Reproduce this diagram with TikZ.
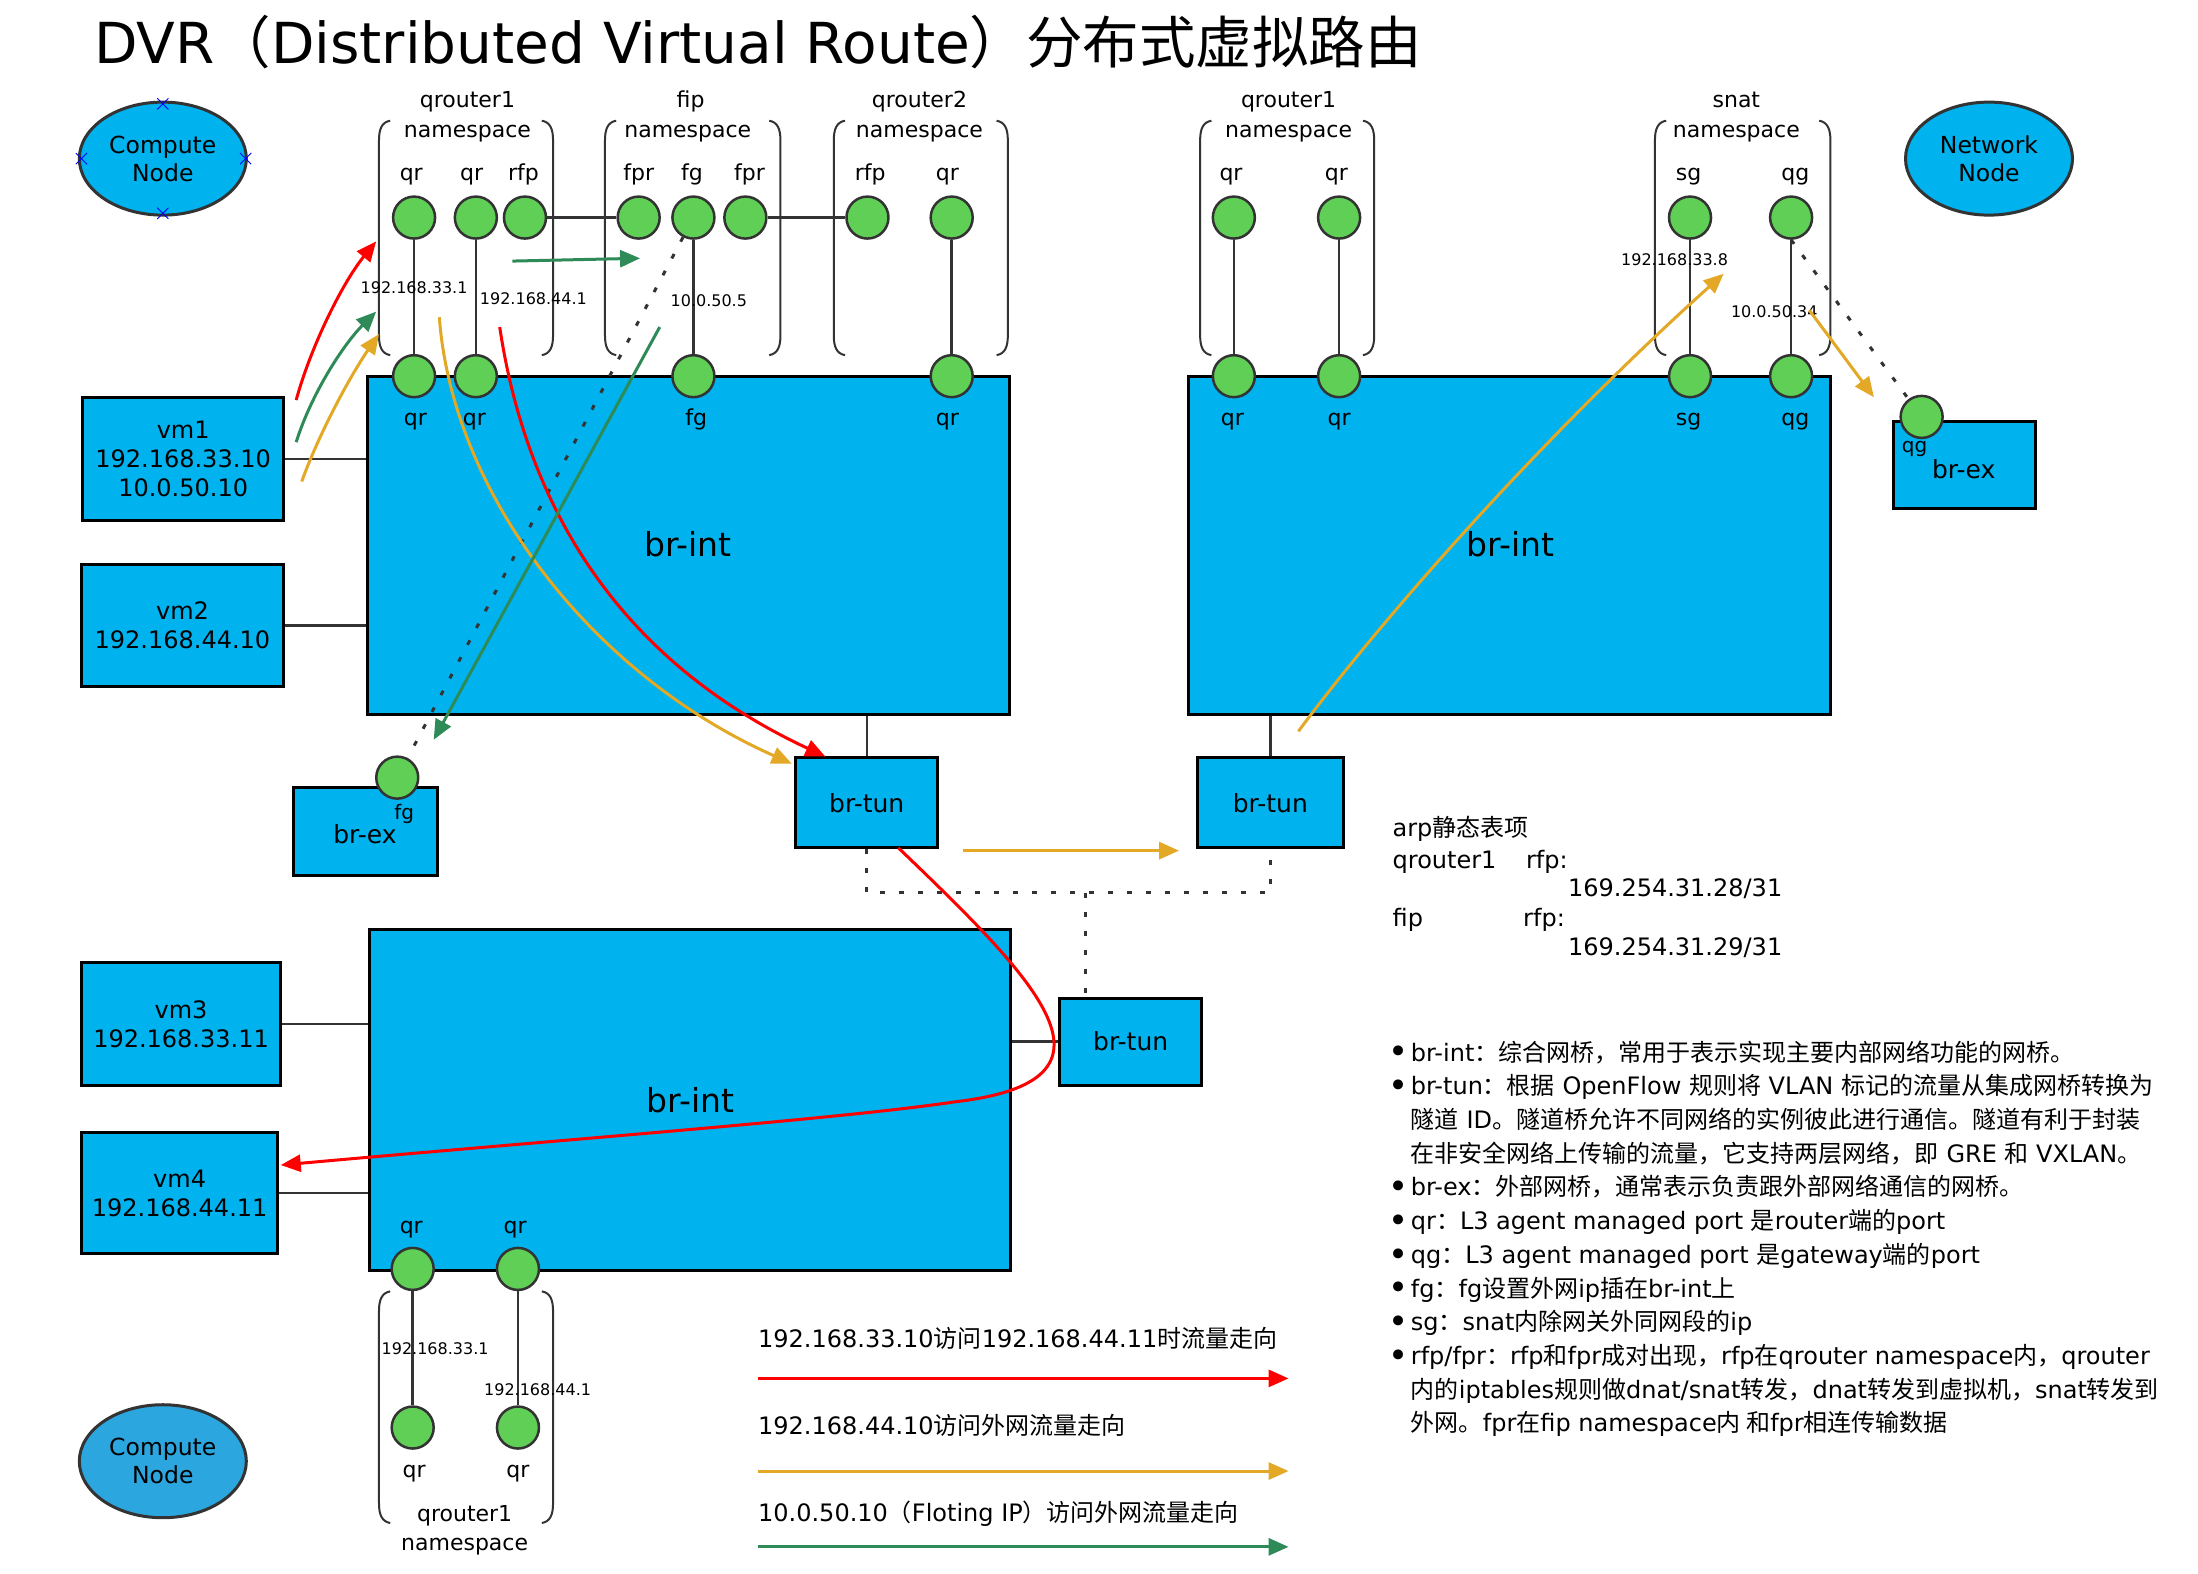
\documentclass[tikz,border=0pt]{standalone}
\usepackage{fontspec}
\setmainfont{DejaVu Sans}
\newfontfamily\cjk{Noto Sans CJK SC}
\newcommand\zh[1]{{\cjk #1}}
\usetikzlibrary{shapes.geometric,arrows.meta,fit}
\definecolor{boxblue}{RGB}{0,178,238}
\definecolor{nodeblue}{RGB}{44,166,223}
\definecolor{portgreen}{RGB}{95,208,85}
\definecolor{edgegray}{RGB}{51,51,51}
\definecolor{flowred}{RGB}{255,0,0}
\definecolor{floworange}{RGB}{226,168,38}
\definecolor{flowgreen}{RGB}{46,139,87}
\tikzset{
  box/.style={draw=black, line width=3pt, fill=boxblue, inner sep=0pt},
  port/.style={circle, draw=edgegray, line width=2.5pt, fill=portgreen, minimum size=42pt, inner sep=0pt},
  wire/.style={draw=edgegray, line width=2.5pt},
  dotwire/.style={draw=edgegray, line width=3pt, dash pattern=on 5pt off 14pt},
  brk/.style={draw=edgegray, line width=2pt},
  flow/.style={line width=3pt, -{Triangle[length=20pt,width=17pt]}},
  lab/.style={font=\fontsize{22}{26}\selectfont, inner sep=0pt, text height=0.75em, text depth=0.25em},
  iplab/.style={font=\fontsize{16}{19}\selectfont, inner sep=0pt},
  bigtxt/.style={font=\fontsize{33}{38}\selectfont, inner sep=0pt},
  vmtxt/.style={font=\fontsize{24}{29}\selectfont, inner sep=0pt, align=center},
  tuntxt/.style={font=\fontsize{25}{30}\selectfont, inner sep=0pt},
  sublab/.style={font=\fontsize{20}{24}\selectfont, inner sep=0pt},
  txt/.style={font=\fontsize{24}{29}\selectfont, inner sep=0pt, anchor=base west},
  bul/.style={font=\fontsize{34}{34}\selectfont, inner sep=0pt, anchor=base west},
  hostnode/.style={ellipse, draw=edgegray, line width=3pt, minimum width=167pt, minimum height=113pt, align=center, font=\fontsize{23.5}{28}\selectfont, inner sep=0pt},
}
\newcommand\nsbrk[4]{%
  \draw[brk] (#1+8,#3) .. controls (#1+2,#3+1) and (#1,#3+6) .. (#1,#3+14) -- (#1,#4-14) .. controls (#1,#4-6) and (#1+2,#4-1) .. (#1+8,#4);
  \draw[brk] (#2-8,#3) .. controls (#2-2,#3+1) and (#2,#3+6) .. (#2,#3+14) -- (#2,#4-14) .. controls (#2,#4-6) and (#2-2,#4-1) .. (#2-8,#4);
}
\begin{document}
\begin{tikzpicture}[x=1.4037pt,y=-1.4037pt]
\useasboundingbox (0,0) rectangle (1565.9,1121.3);

% title
\node[anchor=base west, inner sep=0pt, font=\fontsize{56.5}{68}\selectfont] (title) at (67,45) {DVR\zh{（}Distributed Virtual Route\zh{）分布式虚拟路由}};

% host ellipses
\node[hostnode, fill=boxblue] (cn1) at (116,113) {Compute\\Node};
\node[hostnode, fill=boxblue] (nn) at (1417,113) {Network\\Node};
\node[hostnode, fill=nodeblue] (cn2) at (116,1041) {Compute\\Node};
\foreach \p in {(116,74),(116,152),(58,113),(175,113)}
  \draw[blue, line width=0.8pt] \p ++(-4,-4) -- ++(8,8) \p ++(-4,4) -- ++(8,-8);

% namespace brackets
\nsbrk{270}{394}{86}{253}
\nsbrk{431}{556}{86}{253}
\nsbrk{594}{718}{86}{253}
\nsbrk{855}{979}{86}{253}
\nsbrk{1179}{1304}{86}{253}
\nsbrk{270}{394}{920}{1085}

\node[lab] (n1a) at (333,75) {qrouter1};
\node[lab] (n1b) at (333,96) {namespace};
\node[lab] (n2a) at (492,75) {fip};
\node[lab] (n2b) at (490,96) {namespace};
\node[lab] (n3a) at (655,75) {qrouter2};
\node[lab] (n3b) at (655,96) {namespace};
\node[lab] (n4a) at (918,75) {qrouter1};
\node[lab] (n4b) at (918,96) {namespace};
\node[lab] (n5a) at (1237,75) {snat};
\node[lab] (n5b) at (1237,96) {namespace};
\node[lab] (n6a) at (331,1082) {qrouter1};
\node[lab] (n6b) at (331,1103) {namespace};

% boxes
\node[box, fit={(262,268) (719,509)}] (bi1) {};
\node[box, fit={(847,268) (1304,509)}] (bi2) {};
\node[box, fit={(263,662) (720,905)}] (bi3) {};
\node[box, fit={(59,283) (202,371)}] (vm1) {};
\node[box, fit={(58,402) (202,489)}] (vm2) {};
\node[box, fit={(58,686) (200,773)}] (vm3) {};
\node[box, fit={(58,807) (198,893)}] (vm4) {};
\node[box, fit={(209,561) (312,624)}] (bx1) {};
\node[box, fit={(1349,300) (1450,362)}] (bx2) {};
\node[box, fit={(567,540) (668,604)}] (bt1) {};
\node[box, fit={(853,540) (957,604)}] (bt2) {};
\node[box, fit={(755,711) (856,773)}] (bt3) {};

\node[bigtxt] (bi1t) at (490,388) {br-int};
\node[bigtxt] (bi2t) at (1076,388) {br-int};
\node[bigtxt] (bi3t) at (492,784) {br-int};
\node[vmtxt] (vm1t) at (vm1) {vm1\\192.168.33.10\\10.0.50.10};
\node[vmtxt] (vm2t) at (vm2) {vm2\\192.168.44.10};
\node[vmtxt] (vm3t) at (vm3) {vm3\\192.168.33.11};
\node[vmtxt] (vm4t) at (vm4) {vm4\\192.168.44.11};
\node[tuntxt] (bt1t) at (bt1) {br-tun};
\node[tuntxt] (bt2t) at (bt2) {br-tun};
\node[tuntxt] (bt3t) at (bt3) {br-tun};
\node[tuntxt] (bx1t) at (260,594) {br-ex};
\node[tuntxt] (bx2t) at (1399,334) {br-ex};

% box links
\draw[wire] (vm1) -- (vm1 -| bi1.west);
\draw[wire] (vm2) -- (vm2 -| bi1.west);
\draw[wire] (vm3) -- (vm3 -| bi3.west);
\draw[wire] (vm4) -- (vm4 -| bi3.west);
\draw[wire] (bt1) -- (bt1 |- bi1.south);
\draw[wire] (bt2) -- (bt2 |- bi2.south);
\draw[wire] (bt3) -- (bt3 -| bi3.east);
\coordinate (dj) at (773,636);
\draw[dotwire] (bt1.south) |- (dj) -| (bt2.south);
\draw[dotwire] (dj) -- (dj |- bt3.north);

% ports
\node[port] (p1a) at (295,155) {};
\node[port] (p1b) at (339,155) {};
\node[port] (p1c) at (374,155) {};
\node[port] (f1) at (455,155) {};
\node[port] (f2) at (494,155) {};
\node[port] (f3) at (531,155) {};
\node[port] (q2a) at (618,155) {};
\node[port] (q2b) at (678,155) {};
\node[port] (r1a) at (879,155) {};
\node[port] (r1b) at (954,155) {};
\node[port] (s1) at (1204,155) {};
\node[port] (s2) at (1276,155) {};
\node[port] (b1a) at (295,268) {};
\node[port] (b1b) at (339,268) {};
\node[port] (b1c) at (494,268) {};
\node[port] (b1d) at (678,268) {};
\node[port] (b2a) at (879,268) {};
\node[port] (b2b) at (954,268) {};
\node[port] (b2c) at (1204,268) {};
\node[port] (b2d) at (1276,268) {};
\node[port] (bx1p) at (283,554) {};
\node[port] (bx2p) at (1369,297) {};
\node[port] (b3a) at (294,904) {};
\node[port] (b3b) at (369,904) {};
\node[port] (c3a) at (294,1017) {};
\node[port] (c3b) at (369,1017) {};

\draw[wire] (p1a) -- (b1a);
\draw[wire] (p1b) -- (b1b);
\draw[wire] (f2) -- (b1c);
\draw[wire] (q2b) -- (b1d);
\draw[wire] (r1a) -- (b2a);
\draw[wire] (r1b) -- (b2b);
\draw[wire] (s1) -- (b2c);
\draw[wire] (s2) -- (b2d);
\draw[wire] (b3a) -- (c3a);
\draw[wire] (b3b) -- (c3b);
\draw[wire] (p1c) -- (f1);
\draw[wire] (f3) -- (q2a);
\draw[dotwire] (f2) -- (bx1p);
\draw[dotwire] (s2.south) -- (bx2p);

% port labels
\node[lab] (l1) at (293,127) {qr};
\node[lab] (l2) at (336,127) {qr};
\node[lab] (l3) at (373,127) {rfp};
\node[lab] (l4) at (455,127) {fpr};
\node[lab] (l5) at (493,127) {fg};
\node[lab] (l6) at (534,127) {fpr};
\node[lab] (l7) at (620,127) {rfp};
\node[lab] (l8) at (675,127) {qr};
\node[lab] (l9) at (877,127) {qr};
\node[lab] (l10) at (952,127) {qr};
\node[lab] (l11) at (1203,127) {sg};
\node[lab] (l12) at (1279,127) {qg};
\node[lab] (m1) at (296,301) {qr};
\node[lab] (m2) at (338,301) {qr};
\node[lab] (m3) at (496,301) {fg};
\node[lab] (m4) at (675,301) {qr};
\node[lab] (m5) at (878,301) {qr};
\node[lab] (m6) at (954,301) {qr};
\node[lab] (m7) at (1203,301) {sg};
\node[lab] (m8) at (1279,301) {qg};
\node[lab] (k1) at (293,877) {qr};
\node[lab] (k2) at (367,877) {qr};
\node[lab] (k3) at (295,1051) {qr};
\node[lab] (k4) at (369,1051) {qr};
\node[sublab] (bx1l) at (288,580) {fg};
\node[sublab] (bx2l) at (1364,320) {qg};

% ip labels
\node[iplab] (ip1) at (295,205) {192.168.33.1};
\node[iplab] (ip2) at (380,213) {192.168.44.1};
\node[iplab] (ip3) at (505,214) {10.0.50.5};
\node[iplab] (ip4) at (1193,185) {192.168.33.8};
\node[iplab] (ip5) at (1264,222) {10.0.50.34};
\node[iplab] (ip6) at (310,961) {192.168.33.1};
\node[iplab] (ip7) at (383,990) {192.168.44.1};

% flows
\coordinate (ra0) at (211,285);  \coordinate (ra1) at (268,172);
\coordinate (ga0) at (211,315);  \coordinate (ga1) at (268,222);
\coordinate (oa0) at (215,343);  \coordinate (oa1) at (270,238);
\coordinate (gh0) at (365,186);  \coordinate (gh1) at (456,184);
\coordinate (ob0) at (313,226);  \coordinate (ob1) at (564,544);
\coordinate (rb0) at (356,233);  \coordinate (rb1) at (588,539);
\coordinate (gg0) at (470,233);  \coordinate (gg1) at (309,527);
\coordinate (rc0) at (640,604);  \coordinate (rcm) at (680,785); \coordinate (rc1) at (200,830);
\coordinate (oh0) at (686,606);  \coordinate (oh1) at (840,606);
\coordinate (od0) at (925,521);  \coordinate (od1) at (1228,195);
\coordinate (oe0) at (1289,221); \coordinate (oe1) at (1335,283);

\draw[flow, flowred] (ra0) .. controls (222,245) and (245,200) .. (ra1);
\draw[flow, flowgreen] (ga0) .. controls (222,280) and (245,245) .. (ga1);
\draw[flow, floworange] (oa0) .. controls (226,312) and (248,270) .. (oa1);
\draw[flow, flowgreen] (gh0) -- (gh1);
\draw[flow, floworange] (ob0) .. controls (322,350) and (420,480) .. (ob1);
\draw[flow, flowred] (rb0) .. controls (375,360) and (440,470) .. (rb1);
\draw[flow, flowgreen] (gg0) -- (gg1);
\draw[flow, flowred] (rc0) .. controls (740,700) and (810,770) .. (rcm) .. controls (600,797) and (400,812) .. (rc1);
\draw[flow, floworange] (oh0) -- (oh1);
\draw[flow, floworange] (od0) .. controls (985,440) and (1100,310) .. (od1);
\draw[flow, floworange] (oe0) -- (oe1);

% legend of flows
\coordinate (lg1a) at (540,982);  \coordinate (lg1b) at (918,982);
\coordinate (lg2a) at (540,1048); \coordinate (lg2b) at (918,1048);
\coordinate (lg3a) at (540,1102); \coordinate (lg3b) at (918,1102);
\draw[flow, flowred] (lg1a) -- (lg1b);
\draw[flow, floworange] (lg2a) -- (lg2b);
\draw[flow, flowgreen] (lg3a) -- (lg3b);
\node[txt] (lt1) at (540,960) {192.168.33.10\zh{访问}192.168.44.11\zh{时流量走向}};
\node[txt] (lt2) at (540,1022) {192.168.44.10\zh{访问外网流量走向}};
\node[txt] (lt3) at (540,1084) {10.0.50.10\zh{（}Floting IP\zh{）访问外网流量走向}};

% arp table
\node[txt] (a1) at (992,596) {arp\zh{静态表项}};
\node[txt] (a2) at (992,619) {qrouter1};
\node[txt] (a3) at (1087,619) {rfp:};
\node[txt] (a4) at (1117,639) {169.254.31.28/31};
\node[txt] (a5) at (992,660) {fip};
\node[txt] (a6) at (1085,660) {rfp:};
\node[txt] (a7) at (1117,681) {169.254.31.29/31};

% notes
\foreach \yy in {756,780,852,876,900,924,948,972}
  \node[bul] at (989,\yy+2) {•};
\node[txt] (t1) at (1005,756) {br-int\zh{：综合网桥，常用于表示实现主要内部网络功能的网桥。}};
\node[txt] (t2) at (1005,780) {br-tun\zh{：根据} OpenFlow \zh{规则将} VLAN \zh{标记的流量从集成网桥转换为}};
\node[txt] (t3) at (1005,804) {\zh{隧道} ID\zh{。隧道桥允许不同网络的实例彼此进行通信。隧道有利于封装}};
\node[txt] (t4) at (1005,828) {\zh{在非安全网络上传输的流量，它支持两层网络，即} GRE \zh{和} VXLAN\zh{。}};
\node[txt] (t5) at (1005,852) {br-ex\zh{：外部网桥，通常表示负责跟外部网络通信的网桥。}};
\node[txt] (t6) at (1005,876) {qr\zh{：}L3 agent managed port \zh{是}router\zh{端的}port};
\node[txt] (t7) at (1005,900) {qg\zh{：}L3 agent managed port \zh{是}gateway\zh{端的}port};
\node[txt] (t8) at (1005,924) {fg\zh{：}fg\zh{设置外网}ip\zh{插在}br-int\zh{上}};
\node[txt] (t9) at (1005,948) {sg\zh{：}snat\zh{内除网关外同网段的}ip};
\node[txt] (t10) at (1005,972) {rfp/fpr\zh{：}rfp\zh{和}fpr\zh{成对出现，}rfp\zh{在}qrouter namespace\zh{内，}qrouter};
\node[txt] (t11) at (1005,996) {\zh{内的}iptables\zh{规则做}dnat/snat\zh{转发，}dnat\zh{转发到虚拟机，}snat\zh{转发到}};
\node[txt] (t12) at (1005,1020) {\zh{外网。}fpr\zh{在}fip namespace\zh{内 和}fpr\zh{相连传输数据}};
\end{tikzpicture}
\end{document}
